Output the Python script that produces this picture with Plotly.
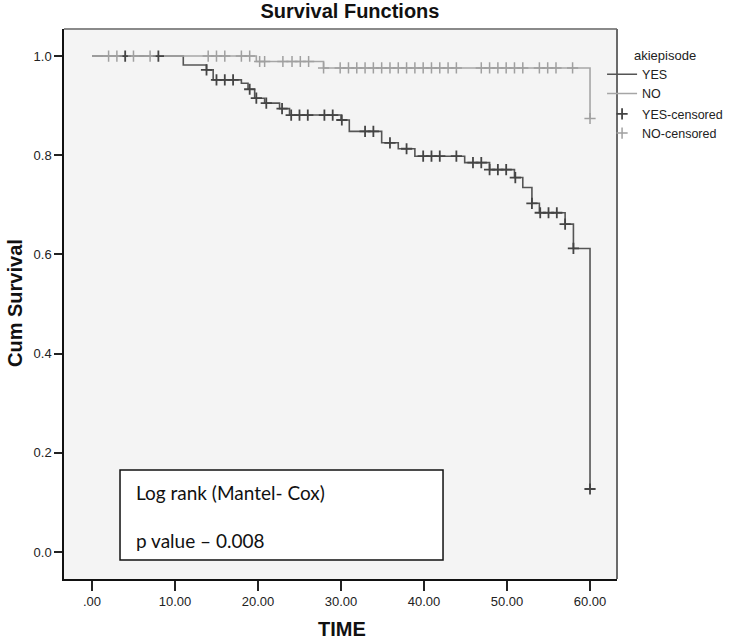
import plotly.graph_objects as go
import bisect

# ---- data ----
yes_times = [0, 11.0, 13.8, 14.6, 18.0, 18.8, 19.6, 20.8, 22.6, 23.8, 30.0, 31.0, 34.9,
             36.9, 38.9, 44.9, 47.9, 50.9, 51.9, 53.0, 53.9, 57.0, 58.0, 60.0]
yes_surv = [1.0, 0.982, 0.972, 0.952, 0.945, 0.933, 0.915, 0.905, 0.894, 0.881, 0.871, 0.848,
            0.825, 0.813, 0.798, 0.785, 0.771, 0.755, 0.735, 0.703, 0.684, 0.661, 0.612, 0.127]
yes_censor = [4, 8, 13.8, 15, 16, 17, 19, 19.8, 21, 22.9, 24, 25, 26, 28, 29, 30.1, 32.9, 33.9,
              35.9, 37.9, 39.9, 40.9, 41.9, 43.9, 45.9, 46.9, 47.9, 48.9, 49.9, 51, 53, 54, 55,
              56, 57, 58, 60]

no_times = [0, 19.8, 27.9, 60.0]
no_surv = [1.0, 0.989, 0.976, 0.874]
no_censor = [2, 3, 5, 7, 14, 15, 16, 18, 19, 20.2, 20.8, 23, 24.1, 25.1, 26.1, 27.9, 29.9, 30.9,
             31.9, 32.9, 33.9, 34.9, 35.9, 36.9, 37.9, 38.9, 39.9, 40.9, 41.9, 42.9, 43.9, 46.9,
             47.9, 48.9, 49.9, 50.9, 51.9, 53.9, 54.9, 55.9, 57.9, 60]

x_ticks = [0, 10, 20, 30, 40, 50, 60]
x_tick_labels = [".00", "10.00", "20.00", "30.00", "40.00", "50.00", "60.00"]
y_ticks = [0.0, 0.2, 0.4, 0.6, 0.8, 1.0]
y_tick_labels = ["0.0", "0.2", "0.4", "0.6", "0.8", "1.0"]


def level_at(times, surv, t):
    i = bisect.bisect_right(times, t) - 1
    return surv[max(i, 0)]


YES_LINE = "#555555"
NO_LINE = "#a6a6a6"
YES_MK = "#444444"
NO_MK = "#a0a0a0"
FONT = "Liberation Sans, Arial, sans-serif"

fig = go.Figure()
fig.add_trace(go.Scatter(x=yes_times, y=yes_surv, mode="lines", line_shape="hv",
                         line=dict(color=YES_LINE, width=1.6), name="YES", legendgroup="a"))
fig.add_trace(go.Scatter(x=no_times, y=no_surv, mode="lines", line_shape="hv",
                         line=dict(color=NO_LINE, width=1.6), name="NO", legendgroup="a"))
fig.add_trace(go.Scatter(x=yes_censor, y=[level_at(yes_times, yes_surv, t) for t in yes_censor],
                         mode="markers", name="YES-censored", legendgroup="b",
                         marker=dict(symbol="cross-thin-open", size=8, color=YES_MK,
                                     line=dict(color=YES_MK, width=1.8))))
fig.add_trace(go.Scatter(x=no_censor, y=[level_at(no_times, no_surv, t) for t in no_censor],
                         mode="markers", name="NO-censored", legendgroup="b",
                         marker=dict(symbol="cross-thin-open", size=8, color=NO_MK,
                                     line=dict(color=NO_MK, width=1.5))))

fig.update_layout(
    width=748, height=641,
    margin=dict(l=64, r=131, t=29, b=62),
    paper_bgcolor="white", plot_bgcolor="#f4f4f4",
    font=dict(family=FONT, size=13, color="#222"),
    title=dict(text="<b>Survival Functions</b>", x=(350 - 64) / 553, xref="paper",
               xanchor="center", y=1 - 11 / 641, yref="container", yanchor="middle",
               font=dict(size=20, color="#111", family=FONT)),
    showlegend=True,
    legend=dict(x=0.973, xanchor="left", y=0.975, yanchor="top", bgcolor="rgba(0,0,0,0)",
                title=dict(text="akiepisode", side="top center", font=dict(size=13)),
                font=dict(size=12.5), tracegroupgap=1, itemwidth=30),
    xaxis=dict(range=[-3.37, 63.25], tickvals=x_ticks, ticktext=x_tick_labels,
               showgrid=False, zeroline=False, showline=True, linecolor="#111", linewidth=1.5,
               ticks="outside", ticklen=10, tickwidth=1.5, tickcolor="#222",
               tickfont=dict(size=13, color="#222")),
    yaxis=dict(range=[-0.0545, 1.0545], tickvals=y_ticks, ticktext=y_tick_labels,
               showgrid=False, zeroline=False, showline=True, linecolor="#111", linewidth=1.5,
               ticks="outside", ticklen=8, tickwidth=1.5, tickcolor="#222",
               tickfont=dict(size=13, color="#222")),
    shapes=[
        dict(type="line", xref="paper", yref="paper", x0=0, x1=1, y0=1, y1=1,
             line=dict(color="#8a8a8a", width=2)),
        dict(type="line", xref="paper", yref="paper", x0=1, x1=1, y0=0, y1=1,
             line=dict(color="#6a6a6a", width=2)),
        dict(type="rect", xref="paper", yref="paper", x0=0.1013, x1=0.6854, y0=0.0345, y1=0.198,
             line=dict(color="#111", width=1.5), fillcolor="white"),
    ],
    annotations=[
        dict(text="<b>Cum Survival</b>", xref="paper", yref="paper", x=(15 - 64) / 553,
             y=(579 - 303) / 550, textangle=-90, showarrow=False, xanchor="center",
             yanchor="middle", font=dict(size=20, color="#111", family=FONT)),
        dict(text="<b>TIME</b>", xref="paper", yref="paper", x=(342 - 64) / 553,
             y=(579 - 629) / 550, showarrow=False, xanchor="center", yanchor="middle",
             font=dict(size=20, color="#111", family=FONT)),
        dict(text="Log rank (Mantel- Cox)", xref="paper", yref="paper", x=(134 - 64) / 553,
             y=(579 - 492) / 550, showarrow=False, xanchor="left", yanchor="middle",
             font=dict(size=19, color="#111", family="Lato, sans-serif")),
        dict(text="p value \u2013 0.008", xref="paper", yref="paper", x=(134 - 64) / 553,
             y=(579 - 540) / 550, showarrow=False, xanchor="left", yanchor="middle",
             font=dict(size=19, color="#111", family="Lato, sans-serif")),
    ],
)

# remove the default 8px page margin so the figure sits at the window's top-left corner
fig.write_html("out.html", config={"displayModeBar": False},
               post_script="document.body.style.margin='0px';")
